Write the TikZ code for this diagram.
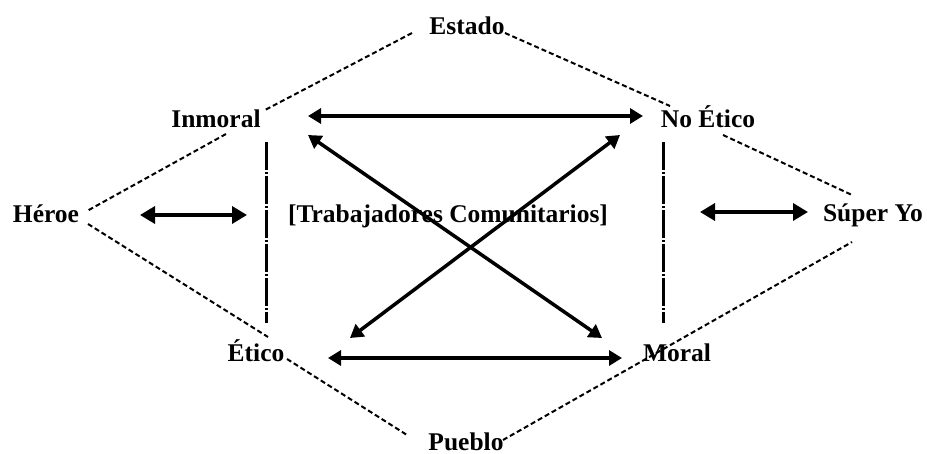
\documentclass[tikz,border=0pt]{standalone}
\usepackage{fontspec}
\setmainfont{Liberation Serif}
\usetikzlibrary{arrows.meta}
\tikzset{
  lbl/.style={inner sep=0pt, anchor=base, font=\bfseries\fontsize{25.5}{30}\selectfont},
  dsh/.style={line width=2pt, dash pattern=on 5pt off 3pt},
  vdash/.style={line width=3pt, dash pattern=on 28pt off 2pt on 2pt off 2pt},
  arr/.style={line width=3.5pt, {Triangle[length=13pt,width=15pt]}-{Triangle[length=13pt,width=15pt]}},
  sarr/.style={line width=3.5pt, {Triangle[length=15pt,width=17pt]}-{Triangle[length=15pt,width=17pt]}}
}
\begin{document}
\begin{tikzpicture}[x=1pt,y=-1pt]
\useasboundingbox (0,0) rectangle (927,454);
% labels
\node[lbl] (Estado)  at (467,35)  {Estado};
\node[lbl] (Inmoral) at (216,128) {Inmoral};
\node[lbl] (NoEtico) at (708,128) {No Ético};
\node[lbl] (Heroe)   at (46,223)  {Héroe};
\node[lbl] (Trab)    at (448,223) {[Trabajadores Comunitarios]};
\node[lbl] (Super)   at (873,222) {Súper Yo};
\node[lbl] (Etico)   at (256,362) {Ético};
\node[lbl] (Moral)   at (677,362) {Moral};
\node[lbl] (Pueblo)  at (466,450) {Pueblo};
% end points
\coordinate (eA) at (412,33);  \coordinate (iA) at (265,110);
\coordinate (eB) at (505,33);  \coordinate (nB) at (670,106);
\coordinate (iC) at (226,134); \coordinate (hC) at (87,211);
\coordinate (hD) at (88,224);  \coordinate (tD) at (268,337);
\coordinate (tE) at (287,359); \coordinate (pE) at (407,435);
\coordinate (pF) at (503,440); \coordinate (sF) at (852,242);
\coordinate (nG) at (723,135); \coordinate (sG) at (852,195);
\coordinate (vL1) at (266,142); \coordinate (vL2) at (266,323);
\coordinate (vR1) at (663,142); \coordinate (vR2) at (663,323);
\coordinate (aT1) at (308,116); \coordinate (aT2) at (643,116);
\coordinate (aB1) at (328,358); \coordinate (aB2) at (622,358);
\coordinate (d11) at (308,135); \coordinate (d12) at (602,338);
\coordinate (d21) at (350,338); \coordinate (d22) at (620,135);
\coordinate (sl1) at (140,215); \coordinate (sl2) at (247,215);
\coordinate (sr1) at (700,212); \coordinate (sr2) at (808,212);
% dashed outline
\draw[dsh] (eA) -- (iA);
\draw[dsh] (eB) -- (nB);
\draw[dsh] (iC) -- (hC);
\draw[dsh] (hD) -- (tD);
\draw[dsh] (tE) -- (pE);
\draw[dsh] (pF) -- (sF);
\draw[dsh] (nG) -- (sG);
% vertical separators
\draw[vdash] (vL1) -- (vL2);
\draw[vdash] (vR1) -- (vR2);
% arrows
\draw[arr] (aT1) -- (aT2);
\draw[arr] (aB1) -- (aB2);
\draw[arr] (d11) -- (d12);
\draw[arr] (d21) -- (d22);
\draw[sarr] (sl1) -- (sl2);
\draw[sarr] (sr1) -- (sr2);
\end{tikzpicture}
\end{document}
